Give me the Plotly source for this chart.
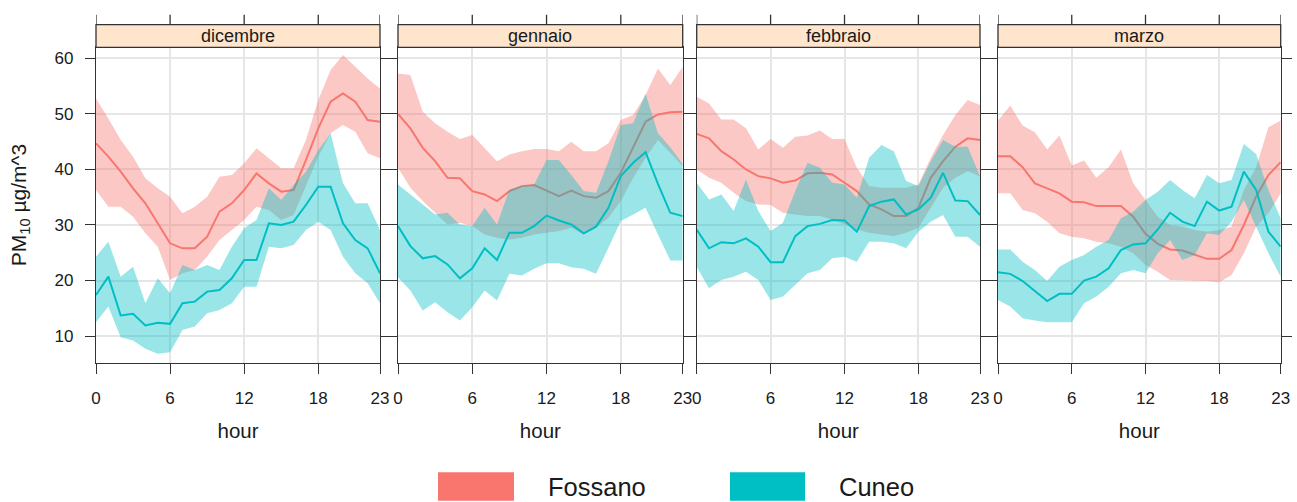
import plotly.graph_objects as go

# Hourly PM10 profiles by month: mean and confidence band for two stations
months = ["dicembre", "gennaio", "febbraio", "marzo"]
hours = list(range(24))
hour_ticks = [0, 6, 12, 18, 23]
pm_ticks = [10, 20, 30, 40, 50, 60]
stations = ["Fossano", "Cuneo"]

# --- dicembre ---
fos_dic = [44.7, 42.3, 39.6, 36.6, 33.9, 30.4, 26.7, 25.8, 25.8, 27.9, 32.4, 33.9,
           36.3, 39.3, 37.5, 36.0, 36.3, 41.7, 47.4, 52.2, 53.7, 52.2, 48.9, 48.6]
fos_dic_hi = [52.8, 49.2, 45.3, 42.3, 38.4, 36.6, 35.1, 32.1, 33.3, 35.1, 38.7, 39.0,
              41.1, 43.8, 42.0, 40.2, 40.2, 45.3, 52.5, 57.9, 60.6, 58.5, 56.4, 54.6]
fos_dic_lo = [36.3, 33.3, 33.3, 31.5, 28.5, 26.1, 20.1, 21.3, 21.9, 24.3, 27.3, 29.1,
              30.9, 33.3, 32.7, 30.9, 31.8, 36.9, 42.3, 46.5, 48.0, 46.8, 42.9, 42.0]
cun_dic = [17.4, 20.7, 13.7, 14.0, 11.9, 12.4, 12.2, 15.9, 16.2, 18.0, 18.3, 20.4,
           23.7, 23.7, 30.3, 30.0, 30.6, 33.6, 36.9, 36.9, 30.3, 27.3, 25.8, 21.3]
cun_dic_hi = [24.3, 27.0, 20.7, 22.5, 15.9, 20.4, 17.7, 22.8, 21.9, 22.8, 21.9, 26.1,
              29.4, 30.9, 36.6, 34.5, 37.2, 39.6, 43.5, 46.5, 37.5, 33.9, 33.9, 29.1]
cun_dic_lo = [12.5, 15.3, 9.8, 9.2, 7.7, 6.8, 7.1, 11.1, 11.7, 14.1, 14.7, 15.9,
              18.9, 18.9, 26.1, 25.8, 26.4, 29.1, 30.6, 29.1, 24.3, 21.3, 19.5, 15.9]

# --- gennaio ---
fos_gen = [50.0, 47.4, 43.9, 41.5, 38.5, 38.4, 36.1, 35.5, 34.3, 36.1, 37.0, 37.2,
           36.2, 35.2, 36.2, 35.2, 34.9, 36.1, 39.4, 44.1, 48.6, 49.9, 50.3, 50.4]
fos_gen_hi = [57.3, 57.0, 50.4, 48.3, 46.8, 45.5, 46.2, 43.9, 41.5, 42.7, 43.3, 43.7,
              43.7, 43.3, 45.0, 43.3, 43.3, 44.7, 48.9, 49.8, 53.4, 58.2, 55.2, 58.5]
fos_gen_lo = [40.3, 36.7, 34.3, 32.2, 30.1, 30.4, 29.8, 28.3, 27.7, 27.4, 27.7, 28.3,
              28.6, 28.9, 29.5, 28.3, 29.5, 31.3, 34.3, 38.5, 42.1, 45.3, 43.0, 40.6]
cun_gen = [29.8, 26.2, 24.0, 24.4, 22.9, 20.4, 22.2, 25.8, 23.7, 28.6, 28.6, 29.8,
           31.7, 30.8, 30.1, 28.5, 29.7, 33.1, 38.8, 41.2, 43.1, 37.4, 32.2, 31.6]
cun_gen_hi = [37.3, 35.5, 33.7, 31.9, 32.2, 30.1, 29.8, 33.1, 30.1, 36.4, 37.0, 37.3,
              41.7, 41.7, 39.0, 36.1, 35.8, 41.5, 48.0, 48.3, 53.7, 46.5, 44.0, 41.0]
cun_gen_lo = [20.6, 18.2, 14.6, 16.1, 14.3, 12.8, 15.2, 18.2, 16.4, 21.2, 20.9, 22.1,
              23.1, 23.1, 22.4, 22.1, 21.2, 25.9, 30.7, 31.9, 33.1, 28.3, 23.6, 23.6]

# --- febbraio ---
fos_feb = [46.4, 45.6, 43.3, 41.8, 40.0, 38.8, 38.4, 37.6, 38.0, 39.3, 39.4, 39.1,
           37.6, 36.1, 33.7, 32.8, 31.6, 31.6, 33.1, 38.5, 41.5, 44.1, 45.6, 45.3]
fos_feb_hi = [53.1, 51.9, 49.0, 49.0, 47.4, 43.6, 45.5, 43.9, 45.9, 46.1, 47.0, 45.5,
              45.5, 40.3, 37.0, 36.7, 36.7, 36.7, 37.3, 42.1, 46.2, 49.8, 52.5, 51.6]
fos_feb_lo = [40.0, 38.5, 37.6, 35.8, 34.3, 33.7, 33.6, 32.2, 31.9, 31.6, 31.6, 31.0,
              30.1, 29.2, 28.6, 28.3, 28.0, 28.6, 29.5, 33.1, 36.7, 38.5, 39.7, 38.8]
cun_feb = [29.2, 25.8, 26.9, 26.7, 27.6, 26.1, 23.3, 23.3, 28.0, 29.8, 30.2, 30.9,
           30.8, 28.8, 33.4, 34.2, 34.6, 31.9, 32.8, 34.9, 39.4, 34.4, 34.3, 31.8]
cun_feb_hi = [37.6, 34.6, 35.5, 32.5, 38.2, 32.5, 28.9, 30.4, 36.1, 41.2, 40.3, 37.6,
              37.3, 34.9, 42.1, 44.4, 43.3, 37.9, 37.0, 41.5, 45.3, 44.1, 44.1, 38.8]
cun_feb_lo = [22.5, 18.6, 20.1, 20.7, 21.6, 20.1, 16.5, 17.1, 19.2, 21.3, 21.9, 24.0,
              24.3, 23.4, 27.0, 27.0, 26.7, 25.8, 28.8, 30.6, 31.8, 27.9, 27.9, 26.1]

# --- marzo ---
fos_mar = [42.4, 42.4, 40.4, 37.5, 36.6, 35.7, 34.2, 34.1, 33.4, 33.4, 33.4, 31.5,
           28.4, 26.6, 25.6, 25.4, 24.7, 23.9, 23.9, 25.5, 30.0, 35.1, 39.0, 41.3]
fos_mar_hi = [48.8, 51.5, 47.9, 46.7, 43.6, 46.1, 40.7, 41.6, 38.5, 40.4, 43.6, 37.5,
              34.5, 31.5, 30.0, 29.7, 29.1, 28.8, 29.1, 29.7, 36.3, 40.4, 47.6, 48.8]
fos_mar_lo = [35.7, 35.7, 32.7, 32.1, 30.6, 28.5, 27.9, 27.6, 27.0, 26.7, 26.1, 24.9,
              22.8, 21.6, 20.1, 20.1, 20.0, 19.9, 19.7, 21.0, 24.9, 29.7, 32.1, 35.7]
cun_mar = [21.5, 21.2, 19.9, 18.1, 16.3, 17.6, 17.6, 20.0, 20.7, 22.2, 25.5, 26.5,
           26.7, 29.2, 32.2, 30.6, 29.8, 34.2, 32.6, 33.3, 39.6, 36.3, 28.8, 26.1]
cun_mar_hi = [25.6, 25.6, 23.4, 21.9, 19.9, 22.5, 23.7, 24.6, 26.1, 27.3, 31.2, 32.4,
              34.5, 36.0, 38.1, 36.3, 34.8, 39.0, 37.5, 38.1, 44.6, 42.8, 36.3, 31.2]
cun_mar_lo = [16.5, 15.3, 13.2, 12.8, 12.5, 12.5, 12.5, 15.9, 17.1, 18.9, 21.3, 21.9,
              21.3, 24.9, 27.3, 23.7, 24.6, 28.5, 28.2, 30.6, 34.5, 29.7, 24.9, 20.7]

fossano = [(fos_dic, fos_dic_lo, fos_dic_hi), (fos_gen, fos_gen_lo, fos_gen_hi),
           (fos_feb, fos_feb_lo, fos_feb_hi), (fos_mar, fos_mar_lo, fos_mar_hi)]
cuneo = [(cun_dic, cun_dic_lo, cun_dic_hi), (cun_gen, cun_gen_lo, cun_gen_hi),
         (cun_feb, cun_feb_lo, cun_feb_hi), (cun_mar, cun_mar_lo, cun_mar_hi)]

W, H = 1297, 502
RED, TEAL = "#F8766D", "#00BFC4"
RED_BAND, TEAL_BAND = "rgba(248,118,109,0.4)", "rgba(0,191,196,0.4)"
AX = "#333333"
GRID = "#E6E6E6"
FONT = "Liberation Sans, Arial, sans-serif"

# panel positions in pixels (left, right)
panels_px = [(96, 380), (398, 682.7), (696.7, 980), (998, 1280.7)]
plot_top, plot_bot = 47.3, 362.7
strip_top = 24.7
ydom = [1 - plot_bot / H, 1 - plot_top / H]

fig = go.Figure()
layout = dict(
    width=W, height=H,
    margin=dict(l=0, r=0, t=0, b=0),
    paper_bgcolor="white", plot_bgcolor="white",
    showlegend=False,
    font=dict(family=FONT, color="#1a1a1a"),
)

shapes, annotations = [], []

for i, month in enumerate(months):
    n = "" if i == 0 else str(i + 1)
    xa, ya = "x" + n, "y" + n
    for (mean, lo, hi), line_c, band_c, name in [
        (fossano[i], RED, RED_BAND, stations[0]),
        (cuneo[i], TEAL, TEAL_BAND, stations[1]),
    ]:
        fig.add_trace(go.Scatter(
            x=hours + hours[::-1], y=hi + lo[::-1],
            fill="toself", fillcolor=band_c, line=dict(width=0),
            mode="lines", name=name, xaxis=xa, yaxis=ya, hoverinfo="skip",
        ))
        fig.add_trace(go.Scatter(
            x=hours, y=mean, mode="lines", name=name,
            line=dict(color=line_c, width=2), xaxis=xa, yaxis=ya,
        ))

    left, right = panels_px[i]
    layout["xaxis" + n] = dict(
        domain=[left / W, right / W], range=[0, 23], anchor=ya,
        tickvals=hour_ticks, ticks="outside", ticklen=10, tickwidth=1.3, tickcolor=AX,
        showline=True, linecolor=AX, linewidth=1.3, mirror=True,
        showgrid=True, gridcolor=GRID, gridwidth=1.5, zeroline=False,
        tickfont=dict(size=17), ticklabelstandoff=10,
        title=dict(text="hour", font=dict(size=20.5), standoff=16),
        automargin=False,
    )
    layout["yaxis" + n] = dict(
        domain=ydom, range=[5.2, 62.0], anchor=xa,
        tickvals=pm_ticks, ticks="outside", ticklen=10, tickwidth=1.3, tickcolor=AX,
        showline=True, linecolor=AX, linewidth=1.3, mirror="ticks",
        showgrid=True, gridcolor=GRID, gridwidth=1.5, zeroline=False,
        showticklabels=(i == 0), tickfont=dict(size=17), ticklabelstandoff=8,
        automargin=False,
    )
    if i > 0:
        layout["yaxis" + n]["matches"] = "y"
    else:
        layout["yaxis"]["title"] = dict(text="PM<sub>10</sub> µg/m^3",
                                       font=dict(size=21), standoff=22)

    # strip header
    shapes.append(dict(type="rect", xref=xa + " domain", yref="paper",
                       x0=0, x1=1, y0=1 - plot_top / H, y1=1 - strip_top / H,
                       fillcolor="#FFE5CC", line=dict(color=AX, width=1.3), layer="above"))
    annotations.append(dict(text=month, xref=xa + " domain", yref="paper",
                            x=0.5, y=1 - (plot_top + strip_top) / 2 / H,
                            xanchor="center", yanchor="middle", showarrow=False,
                            font=dict(size=18, color="#1a1a1a")))
    # ticks above the strip
    for t in hour_ticks:
        shapes.append(dict(type="line", xref=xa, yref="paper", x0=t, x1=t,
                           y0=1 - strip_top / H, y1=1 - (strip_top - 10) / H,
                           line=dict(color=AX, width=1.3)))

# key at the bottom
key = [(stations[0], RED, 438, 514, 546), (stations[1], TEAL, 730, 805, 837)]
for name, col, x0, x1, xt in key:
    shapes.append(dict(type="rect", xref="paper", yref="paper",
                       x0=x0 / W, x1=x1 / W, y0=1 - 500.7 / H, y1=1 - 472.3 / H,
                       fillcolor=col, line=dict(width=0)))
    annotations.append(dict(text=name, xref="paper", yref="paper",
                            x=xt / W, y=1 - 486.5 / H, xanchor="left", yanchor="middle",
                            showarrow=False, font=dict(size=25.5, color="#1a1a1a")))

layout["shapes"] = shapes
layout["annotations"] = annotations
fig.update_layout(**layout)
fig.write_html("out.html")
